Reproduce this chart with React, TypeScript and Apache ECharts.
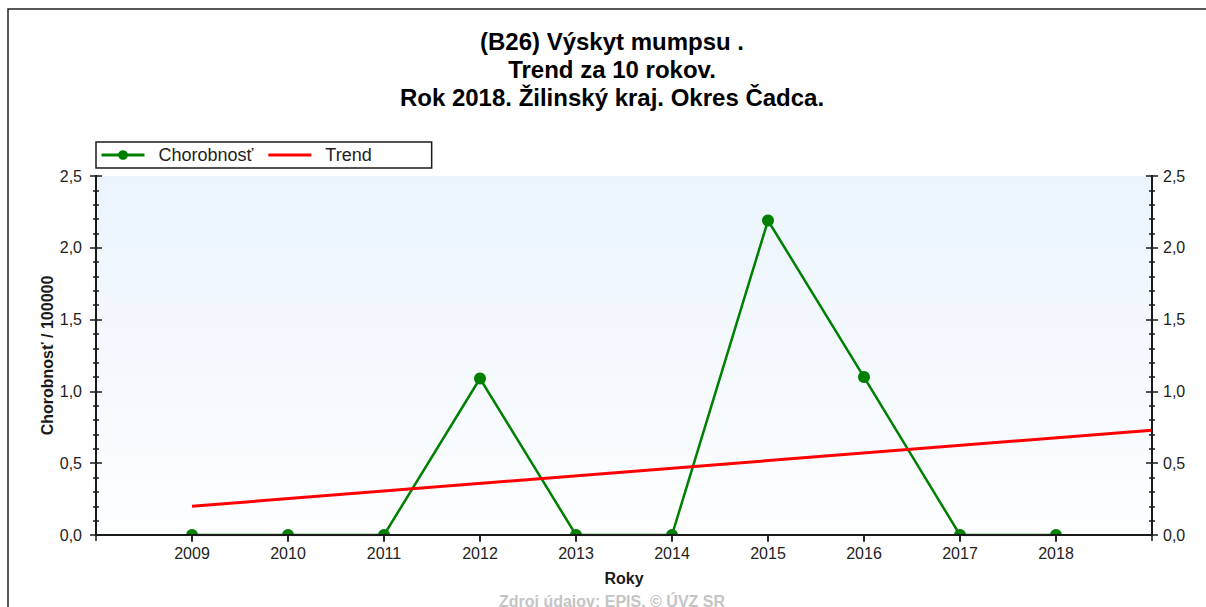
import React, { useEffect, useRef } from "react";
import * as echarts from "echarts";

const years = [2009, 2010, 2011, 2012, 2013, 2014, 2015, 2016, 2017, 2018];
const chorobnost = [0, 0, 0, 1.09, 0, 0, 2.19, 1.1, 0, 0];
const trendYears = [2009, 2019];
const trendValues = [0.2, 0.73];
const xMin = 2008;
const xMax = 2019;
const yMin = 0;
const yMax = 2.5;
const yStep = 0.5;
const titleLines = [
  "(B26) Výskyt mumpsu .",
  "Trend za 10 rokov.",
  "Rok 2018. Žilinský kraj. Okres Čadca.",
];
const seriesNames = ["Chorobnosť", "Trend"];
const yName = "Chorobnosť / 100000";
const xName = "Roky";
const footer = "Zdroj údajov: EPIS, © ÚVZ SR";

const HALF = "path://M0,10A10,10,0,0,1,20,10Z M10,20L10,20";
const LINE_ICON = "path://M0,0L43,0L43,3L0,3Z";
const FONT = "'Liberation Sans', Arial, sans-serif";
const INK = "#1a1a1a";

export default function App() {
  const ref = useRef<HTMLDivElement>(null);
  useEffect(() => {
    if (!ref.current) return;
    const chart = echarts.init(ref.current, null, { renderer: "svg" });
    const fmt = (v: number) => v.toFixed(1).replace(".", ",");
    const yBase: any = {
      type: "value",
      min: yMin,
      max: yMax,
      interval: yStep,
      splitLine: { show: false },
      axisLine: { show: true, lineStyle: { color: INK, width: 2 } },
      minorTick: { show: true, splitNumber: 5, length: 3, lineStyle: { color: INK, width: 1.5 } },
      minorSplitLine: { show: false },
      z: 3,
    };
    const tick = (inside: boolean) => ({ show: true, inside, length: 6, lineStyle: { color: INK, width: 1.5 } });
    const labelStyle = { fontSize: 16, color: "#222", fontFamily: FONT };
    const xBase: any = {
      type: "value",
      min: xMin,
      max: xMax,
      interval: 1,
      splitLine: { show: false },
      axisLine: { show: true, lineStyle: { color: INK, width: 2 } },
      z: 3,
    };
    chart.setOption({
      animation: false,
      backgroundColor: "#ffffff",
      grid: {
        left: 96,
        top: 176,
        right: 54,
        bottom: 72,
        show: true,
        borderWidth: 0,
        backgroundColor: new echarts.graphic.LinearGradient(0, 0, 0, 1, [
          { offset: 0, color: "#ebf4fd" },
          { offset: 1, color: "#fdfeff" },
        ]),
      },
      legend: {
        left: 96,
        top: 142,
        orient: "horizontal",
        itemWidth: 43,
        itemHeight: 12,
        itemGap: 15,
        padding: [4, 60, 4, 4],
        borderColor: INK,
        borderWidth: 1.5,
        borderRadius: 0,
        backgroundColor: "#ffffff",
        lineStyle: { width: 3 },
        textStyle: { fontSize: 18, fontFamily: FONT, color: "#222", padding: [0, 0, 0, 9], lineHeight: 15 },
        data: [
          { name: seriesNames[0] },
          { name: seriesNames[1], icon: LINE_ICON },
        ],
      },
      xAxis: [
        {
          ...xBase,
          position: "bottom",
          axisTick: { show: true, inside: false, length: 7, lineStyle: { color: INK, width: 1.5 } },
          axisLabel: {
            ...labelStyle,
            margin: 10,
            showMinLabel: false,
            showMaxLabel: false,
            formatter: (v: number) => (v >= years[0] && v <= years[years.length - 1] ? String(v) : ""),
          },
          name: xName,
          nameLocation: "middle",
          nameGap: 35,
          nameMoveOverlap: false,
          nameTextStyle: { fontSize: 16, fontWeight: "bold", color: INK, fontFamily: FONT },
        },
        {
          ...xBase,
          position: "top",
          axisTick: { show: true, inside: true, length: 6, lineStyle: { color: INK, width: 1.5 } },
          axisLabel: { show: false },
        },
      ],
      yAxis: [
        {
          ...yBase,
          position: "left",
          axisTick: tick(false),
          axisLabel: { ...labelStyle, margin: 14, formatter: fmt },
          name: yName,
          nameLocation: "middle",
          nameGap: 41,
          nameMoveOverlap: false,
          nameTextStyle: { fontSize: 16, fontWeight: "bold", color: INK, fontFamily: FONT },
        },
        { ...yBase, position: "left", offset: 0, axisTick: tick(true), axisLabel: { show: false } },
        {
          ...yBase,
          position: "right",
          offset: 0,
          axisTick: tick(false),
          axisLabel: { ...labelStyle, margin: 11, formatter: fmt },
        },
        { ...yBase, position: "right", offset: 0, axisTick: tick(true), axisLabel: { show: false } },
      ],
      series: [
        {
          type: "line",
          name: seriesNames[0],
          xAxisIndex: 0,
          yAxisIndex: 0,
          data: years.map((y, i) => ({
            value: [y, chorobnost[i]],
            symbol: chorobnost[i] === 0 ? HALF : "circle",
          })),
          symbol: "circle",
          symbolSize: 12,
          lineStyle: { color: "#008000", width: 2.5 },
          itemStyle: { color: "#008000" },
          z: 2,
        },
        {
          type: "line",
          name: seriesNames[1],
          xAxisIndex: 0,
          yAxisIndex: 0,
          data: trendYears.map((y, i) => [y, trendValues[i]]),
          symbol: "none",
          lineStyle: { color: "#ff0000", width: 3 },
          itemStyle: { color: "#ff0000" },
          z: 2,
        },
      ],
      graphic: [
        {
          type: "polyline",
          shape: { points: [[8, 640], [8, 9], [1240, 9]] },
          style: { stroke: "#222", lineWidth: 1.5, fill: null },
          silent: true,
        },
        ...titleLines.map((t, i) => ({
          type: "text",
          x: 612,
          y: 29 + i * 28,
          style: {
            text: t,
            font: `bold 24px ${FONT}`,
            fill: "#000",
            textAlign: "center",
            textVerticalAlign: "top",
          },
        })),
        {
          type: "text",
          x: 612,
          y: 593,
          style: {
            text: footer,
            font: `bold 16px ${FONT}`,
            fill: "#c4c4c4",
            textAlign: "center",
            textVerticalAlign: "top",
          },
        },
      ],
    });
    return () => chart.dispose();
  }, []);
  return (
    <div
      ref={ref}
      style={{ position: "fixed", left: 0, top: 0, width: 1206, height: 607 }}
    />
  );
}
